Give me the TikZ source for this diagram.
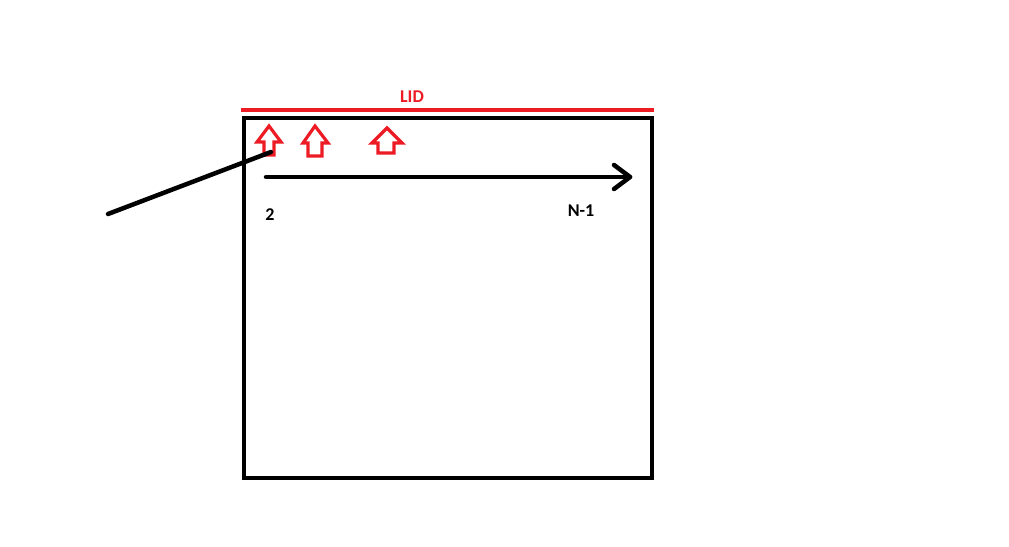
\documentclass[tikz,border=0pt]{standalone}
\usepackage{fontspec}
\setmainfont{Carlito}
\definecolor{paintred}{RGB}{237,28,36}
\newcommand\hollowup[8]{% tipx tipy headL headR baseY shaftL shaftR bottom
  \draw[hollowarrow] (#1,#2) -- (#4,#5) -- (#7,#5) -- (#7,#8) -- (#6,#8) -- (#6,#5) -- (#3,#5) -- cycle;}
\tikzset{
  hollowarrow/.style={draw=paintred, line width=3.2pt, line join=miter},
  blackline/.style={draw=black, line width=4.5pt},
  lbl/.style={font=\fontsize{18}{20}\selectfont\bfseries, inner sep=0pt},
}
\begin{document}
\begin{tikzpicture}[x=1pt,y=-1pt]
\useasboundingbox (0,0) rectangle (1009,546);
% box
\node[draw=black, line width=4.5pt, minimum width=408pt, minimum height=360pt, inner sep=0pt, outer sep=0pt] (box) at (448,298) {};
% lid
\coordinate (lidL) at (241,110);
\coordinate (lidR) at (654,110);
\draw[paintred, line width=4.5pt] (lidL) -- (lidR);
\node[lbl, text=paintred] (lid) at (412,97) {LID};
% hollow arrows
\hollowup{269}{126}{257}{281}{142}{264}{274}{155}
\hollowup{315}{126}{303}{328}{143}{308}{322}{156}
\hollowup{387}{128}{372}{402}{143}{378}{394}{153}
% black arrow
\coordinate (aS) at (266,177);
\coordinate (aE) at (630,177);
\draw[blackline, line cap=round] (aS) -- (aE);
\coordinate (h1) at (614,165);
\coordinate (h2) at (614,189);
\draw[blackline, line cap=round, line join=round] (h1) -- (aE) -- (h2);
% diagonal line
\coordinate (dA) at (108,214);
\coordinate (dB) at (271,152);
\draw[blackline, line cap=round] (dA) -- (dB);
% labels
\node[lbl] (two) at (270,215) {2};
\node[lbl] (nm1) at (581,211) {N-1};
\end{tikzpicture}
\end{document}
